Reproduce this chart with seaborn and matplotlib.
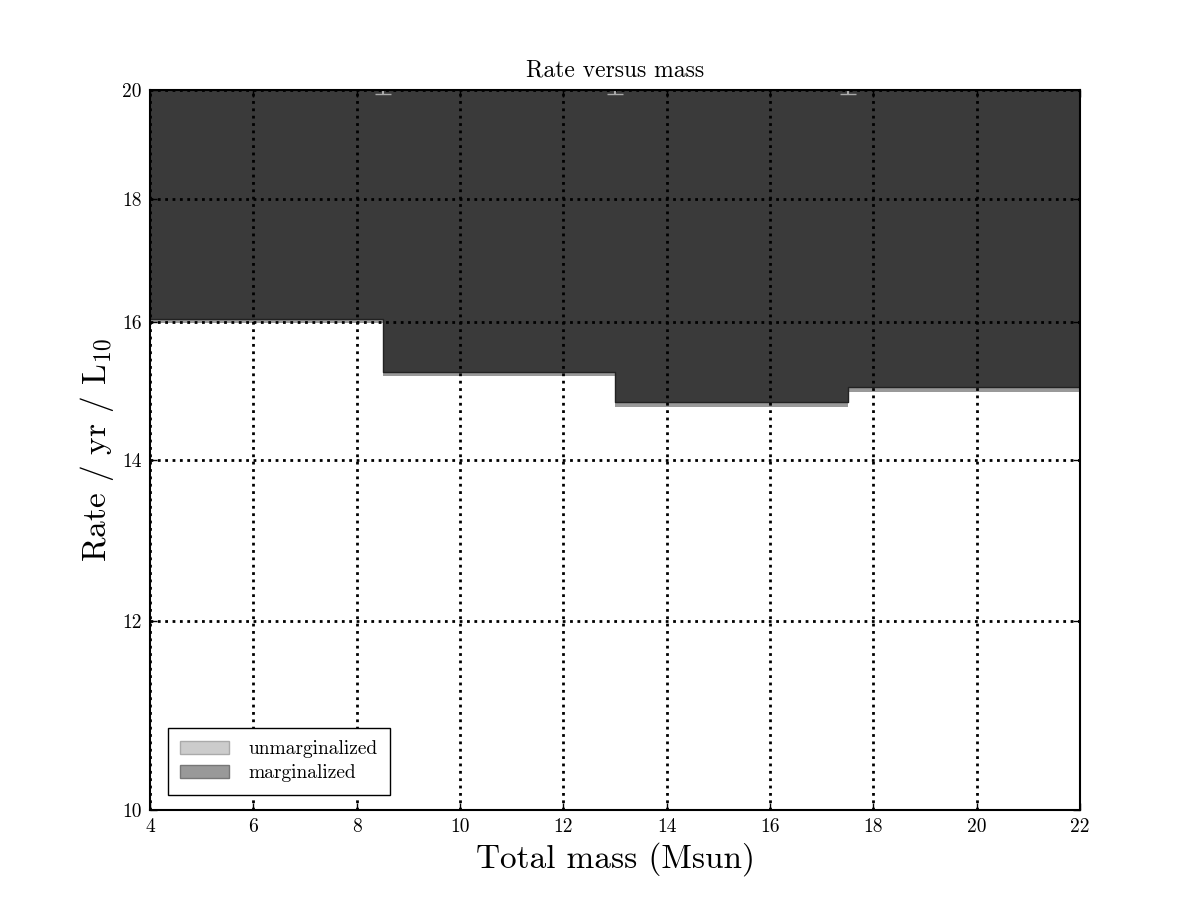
import numpy as np
import pandas as pd
import seaborn as sns
import matplotlib
matplotlib.use("Agg")
import matplotlib.pyplot as plt
from matplotlib.patches import Patch

# bin edges in total mass and upper limits on rate per bin
mass_edges = [4.0, 8.5, 13.0, 17.5, 22.0]
rate_upper = [16.05, 15.24, 14.81, 15.03]
rate_unmarg = [16.03, 15.22, 14.79, 15.01]
rate_marg = [15.98, 15.19, 14.74, 14.96]
y_ticks = [10, 12, 14, 16, 18, 20]
x_ticks = [4, 6, 8, 10, 12, 14, 16, 18, 20, 22]

sns.set_style("ticks")
plt.rcParams['font.family'] = 'serif'
plt.rcParams['font.serif'] = ['cmr10', 'DejaVu Serif']
plt.rcParams['mathtext.fontset'] = 'cm'
plt.rcParams['axes.formatter.use_mathtext'] = True
plt.rcParams['axes.unicode_minus'] = False
plt.rcParams['text.color'] = 'black'
plt.rcParams['axes.labelcolor'] = 'black'
plt.rcParams['xtick.color'] = 'black'
plt.rcParams['ytick.color'] = 'black'

fig = plt.figure(figsize=(12, 9), dpi=100)
ax = fig.add_axes([0.125, 0.1, 0.775, 0.8])

for i in range(len(rate_upper)):
    xs = [mass_edges[i], mass_edges[i + 1]]
    ax.fill_between(xs, rate_unmarg[i], 20, color='#cccccc', lw=0, zorder=0.5)
    ax.fill_between(xs, rate_marg[i], 20, color='#999999', lw=0, zorder=0.6)
    ax.fill_between(xs, rate_upper[i], 20, color='#3a3a3a', lw=0, zorder=0.7)

# outline of the upper limit
step_df = pd.DataFrame({'mass': mass_edges, 'rate': rate_upper + [rate_upper[-1]]})
sns.lineplot(data=step_df, x='mass', y='rate', drawstyle='steps-post',
             color='#222222', lw=1, ax=ax, zorder=0.8)
ax.errorbar(mass_edges[1:-1], [20] * 3, yerr=0.07, fmt='none',
            ecolor='#aaaaaa', capsize=6, lw=1.5, zorder=5)

ax.set_yscale('log')
ax.set_xlim(4, 22)
ax.set_ylim(10, 20)
ax.set_xticks(x_ticks)
ax.set_xticklabels([str(t) for t in x_ticks])
ax.set_yticks(y_ticks)
ax.set_yticklabels([str(t) for t in y_ticks])
ax.minorticks_off()
ax.tick_params(direction='in', top=True, right=True, length=5, width=1,
               labelsize=14, color='black', pad=6)
ax.set_axisbelow(False)
ax.grid(True, color='black', linestyle=':', lw=2)
for s in ax.spines.values():
    s.set_linewidth(1.5)
    s.set_color('black')
    s.set_zorder(10)

ax.set_xlabel('Total mass (Msun)', fontsize=24)
ax.set_ylabel(r'Rate / yr / L$_{10}$', fontsize=24)
ax.set_title('Rate versus mass', fontsize=17, pad=10)

handles = [Patch(facecolor='#cccccc', edgecolor='#aaaaaa', label='unmarginalized'),
           Patch(facecolor='#999999', edgecolor='#777777', label='marginalized')]
leg = ax.legend(handles=handles, loc='lower left', fontsize=14, frameon=True,
                fancybox=False, framealpha=1, edgecolor='black',
                bbox_to_anchor=(0.019, 0.021), borderaxespad=0,
                borderpad=0.65, handlelength=2.5, handletextpad=1.0,
                labelspacing=0.3)
leg.get_frame().set_linewidth(1)
leg.set_zorder(20)

fig.savefig('out.png', dpi=100, facecolor='white')
